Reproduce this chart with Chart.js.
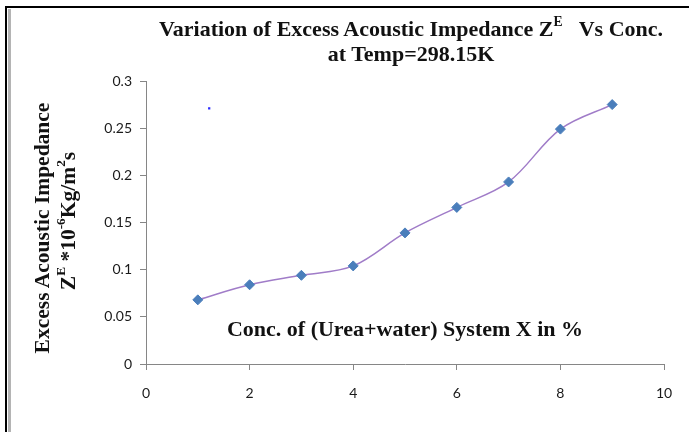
<!DOCTYPE html>
<html lang="en">
<head>
  <meta charset="UTF-8">
  <title>Excess Acoustic Impedance vs Conc.</title>
  <style>
    body {
      margin: 0;
      padding: 0;
      background: white;
    }

    .wrap {
      position: relative;
      width: 689px;
      height: 432px;
      overflow: hidden;
    }

    canvas {
      position: absolute;
      left: 0;
      top: 0;
    }

    .frame-black {
      position: absolute;
      left: 5px;
      top: 6px;
      width: 700px;
      height: 440px;
      border-left: 2px solid #000;
      border-top: 2px solid #000;
    }

    .frame-gray {
      position: absolute;
      left: 8px;
      top: 9px;
      width: 700px;
      height: 440px;
      border-left: 3px solid #b4b4b4;
    }

    .serif {
      position: absolute;
      font-family: "Liberation Serif", "Times New Roman", serif;
      font-weight: bold;
      color: #111;
      white-space: nowrap;
    }

    .title {
      left: 411px;
      top: 16px;
      transform: translateX(-50%);
      text-align: center;
      font-size: 22px;
      line-height: 25px;
    }

    .ytitle {
      font-size: 21.5px;
      line-height: 22px;
      transform: translate(-50%, -50%) rotate(-90deg);
    }

    .xlabel {
      left: 405px;
      top: 316px;
      transform: translateX(-50%);
      font-size: 22px;
      line-height: 25px;
    }

    sup {
      font-size: 62%;
      line-height: 0;
      vertical-align: 0.75em;
    }
  </style>
</head>
<body>
  <div class="wrap">
    <canvas id="chart" width="689" height="432"></canvas>
    <div class="frame-black"></div>
    <div class="frame-gray"></div>
    <div class="serif title">Variation of Excess Acoustic Impedance Z<sup>E</sup>&nbsp;&nbsp; Vs Conc.<br>at Temp=298.15K</div>
    <div class="serif ytitle" style="left:42px; top:228px;">Excess Acoustic Impedance</div>
    <div class="serif ytitle" style="left:68px; top:221px;">Z<sup>E</sup> *10<sup>-6</sup>Kg/m<sup>2</sup>s</div>
    <div class="serif xlabel">Conc. of (Urea+water) System X in %</div>
  </div>

  <script src="https://cdn.jsdelivr.net/npm/chart.js"></script>
  <script>
    // concentration X in %
    const concX = [1, 2, 3, 4, 5, 6, 7, 8, 9];
    // excess acoustic impedance Z^E *10^-6
    const zE = [0.068, 0.084, 0.094, 0.104, 0.139, 0.166, 0.193, 0.249, 0.275];
    // small stray mark seen in the plot
    const strayX = [1.22];
    const strayY = [0.271];

    const xMin = 0, xMax = 10, xStep = 2;
    const yMin = 0, yMax = 0.3, yStep = 0.05;

    const axisGray = '#868686';
    const tickFont = { family: 'Lato, "Open Sans", sans-serif', size: 14 };

    const ctx = document.getElementById('chart').getContext('2d');

    new Chart(ctx, {
      type: 'scatter',
      data: {
        datasets: [{
          label: 'Z^E',
          data: concX.map((x, i) => ({ x: x, y: zE[i] })),
          showLine: true,
          borderColor: '#a07cc8',
          borderWidth: 1.5,
          tension: 0.35,
          pointStyle: 'rectRot',
          pointRadius: 5,
          pointBackgroundColor: '#4a7ebb',
          pointBorderColor: '#4a7ebb',
          pointBorderWidth: 1
        }, {
          label: 'mark',
          data: strayX.map((x, i) => ({ x: x, y: strayY[i] })),
          showLine: false,
          pointStyle: 'rect',
          pointRadius: 1.6,
          pointBackgroundColor: '#2b2bff',
          pointBorderColor: '#2b2bff',
          pointBorderWidth: 0
        }]
      },
      options: {
        responsive: false,
        animation: false,
        layout: {
          padding: { left: 0, right: 25, top: 81, bottom: 0 }
        },
        plugins: {
          legend: { display: false },
          tooltip: { enabled: false }
        },
        scales: {
          x: {
            type: 'linear',
            min: xMin,
            max: xMax,
            ticks: {
              stepSize: xStep,
              color: '#1a1a1a',
              font: tickFont,
              padding: 15
            },
            grid: {
              drawOnChartArea: false,
              drawTicks: true,
              tickLength: 6,
              color: axisGray
            },
            border: { color: axisGray, width: 1 },
            afterFit: function (scale) { scale.height = 68; }
          },
          y: {
            type: 'linear',
            min: yMin,
            max: yMax,
            ticks: {
              stepSize: yStep,
              color: '#1a1a1a',
              font: tickFont,
              padding: 8,
              callback: v => String(+v.toFixed(2))
            },
            grid: {
              drawOnChartArea: false,
              drawTicks: true,
              tickLength: 6,
              color: axisGray
            },
            border: { color: axisGray, width: 1 },
            afterFit: function (scale) { scale.width = 146; }
          }
        }
      }
    });
  </script>
</body>
</html>
